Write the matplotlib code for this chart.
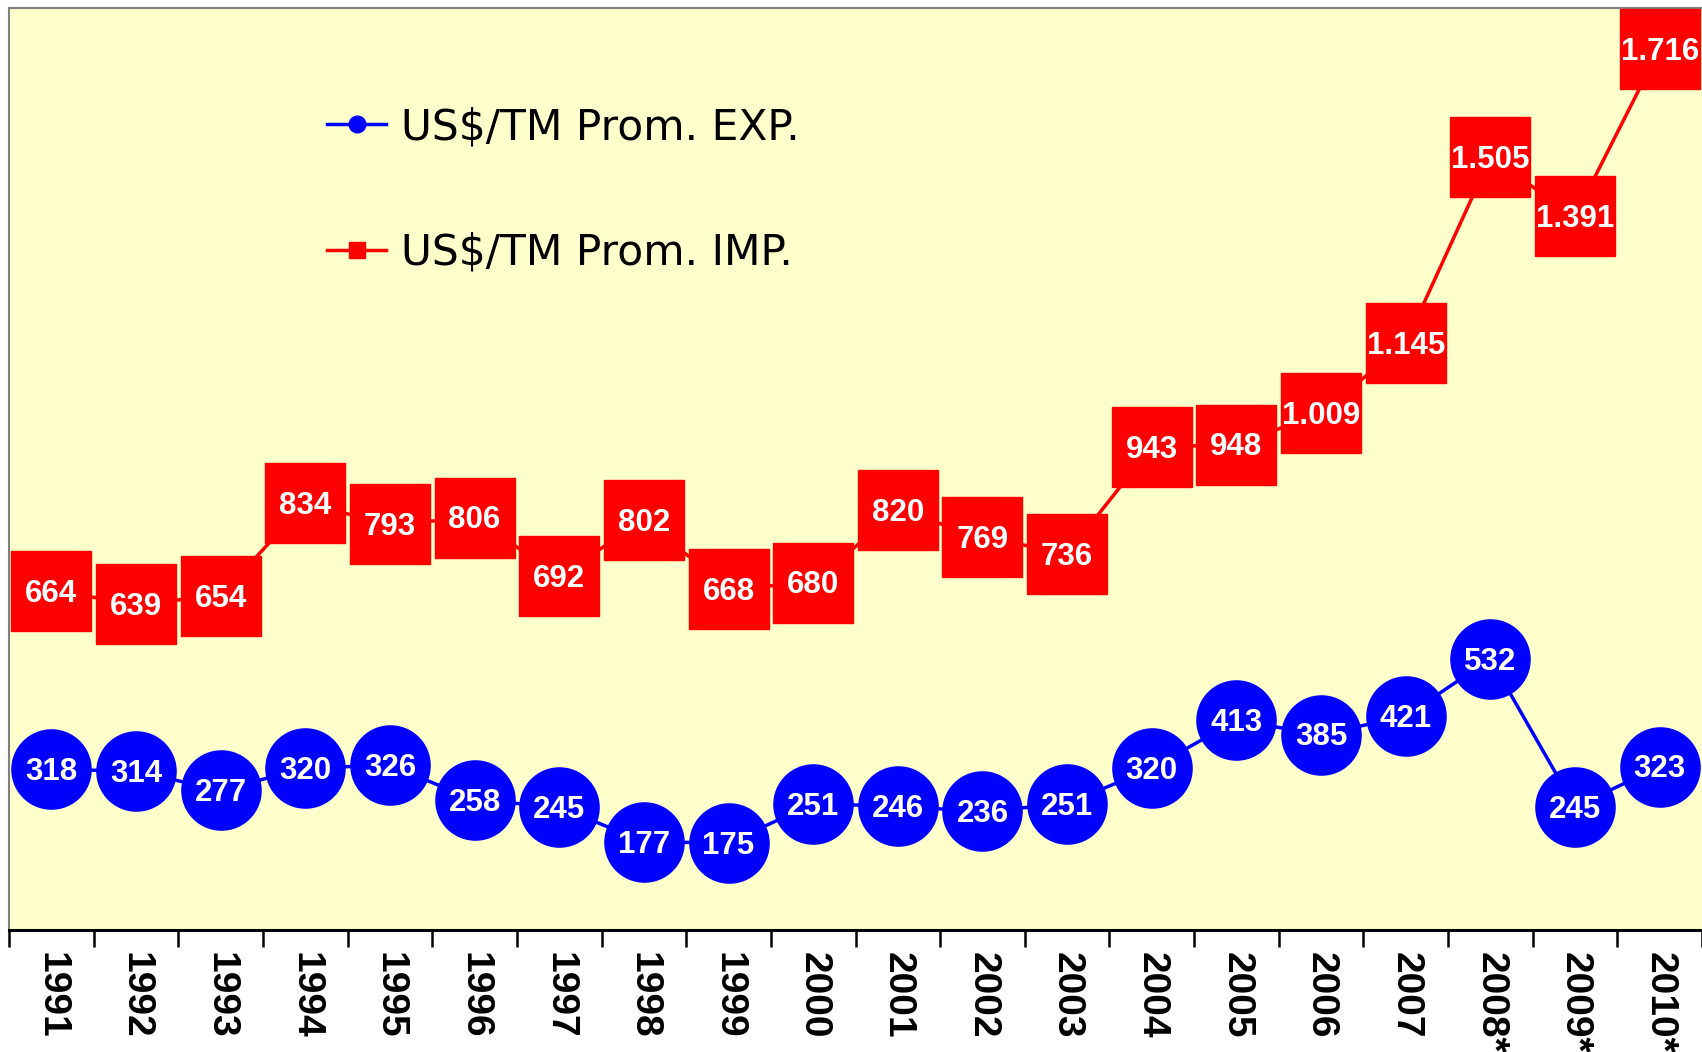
import matplotlib
matplotlib.use("Agg")
import matplotlib.pyplot as plt
from matplotlib.lines import Line2D

years = ["1991", "1992", "1993", "1994", "1995", "1996", "1997", "1998", "1999", "2000",
         "2001", "2002", "2003", "2004", "2005", "2006", "2007", "2008*", "2009*", "2010*"]
exp_vals = [318, 314, 277, 320, 326, 258, 245, 177, 175, 251,
            246, 236, 251, 320, 413, 385, 421, 532, 245, 323]
imp_vals = [664, 639, 654, 834, 793, 806, 692, 802, 668, 680,
            820, 769, 736, 943, 948, 1009, 1145, 1505, 1391, 1716]
exp_label = "US$/TM Prom. EXP."
imp_label = "US$/TM Prom. IMP."

W, H = 1702, 1052
fig = plt.figure(figsize=(W / 100, H / 100), dpi=100)
fig.patch.set_facecolor("white")
ax = fig.add_axes([9 / W, 1 - 930 / H, (W - 9) / W, (930 - 7.5) / H])
ax.set_facecolor("#FFFFCC")

x = list(range(len(years)))

def fmt(v):
    return f"{v:,}".replace(",", ".")

ax.plot(x, imp_vals, color="#FF0000", lw=2.5, marker="s", markersize=58,
        markerfacecolor="#FF0000", markeredgecolor="#FF0000", clip_on=False, zorder=3)
ax.plot(x, exp_vals, color="#0000FF", lw=2.5, marker="o", markersize=57,
        markerfacecolor="#0000FF", markeredgecolor="#0000FF", clip_on=False, zorder=3)

for vals in (imp_vals, exp_vals):
    for xi, v in zip(x, vals):
        ax.annotate(fmt(v), (xi, v), xytext=(0, -2.0), textcoords="offset points",
                    color="white", fontsize=22.5, fontweight="bold",
                    family="Liberation Sans", ha="center", va="center",
                    zorder=5, annotation_clip=False)

ax.set_xlim(-0.5, len(years) - 0.5)
ax.set_ylim(6, 1796)
ax.set_yticks([])

# labels at category centres, tick marks at boundaries
ax.set_xticks(x)
ax.set_xticklabels(years, rotation=-90, fontsize=28, fontweight="bold",
                   family="Liberation Sans", va="top", ha="center")
ax.tick_params(axis="x", which="major", length=0, pad=16)
ax.set_xticks([i - 0.5 for i in range(len(years) + 1)], minor=True)
ax.tick_params(axis="x", which="minor", length=12, width=1.8, color="black", direction="out")

ax.spines["bottom"].set_color("black")
ax.spines["bottom"].set_linewidth(2.2)
ax.spines["left"].set_color("#808080")
ax.spines["left"].set_linewidth(1.5)
ax.spines["top"].set_color("#808080")
ax.spines["top"].set_linewidth(1.5)
ax.spines["right"].set_visible(False)

handles = [
    Line2D([], [], color="#0000FF", lw=2.5, marker="o", markersize=12,
           markerfacecolor="#0000FF", markeredgecolor="#0000FF"),
    Line2D([], [], color="#FF0000", lw=2.5, marker="s", markersize=12,
           markerfacecolor="#FF0000", markeredgecolor="#FF0000"),
]
leg = ax.legend(handles, [exp_label, imp_label], loc="upper left",
                bbox_to_anchor=(306 / W, 1 - 85 / H), bbox_transform=fig.transFigure,
                frameon=False, prop={"family": "DejaVu Sans", "size": 30.5},
                handlelength=1.4, handletextpad=0.35, labelspacing=1.97, borderpad=0)

fig.savefig("out.png", dpi=100, facecolor=fig.get_facecolor())
